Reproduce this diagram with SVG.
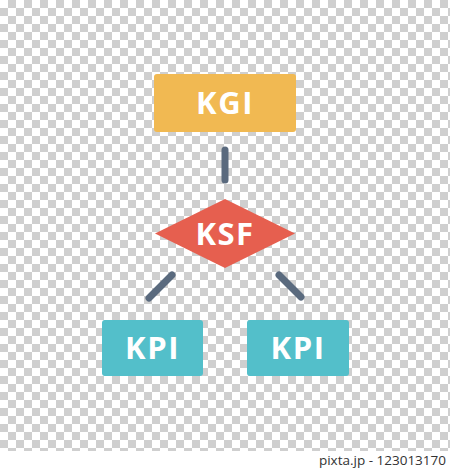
<svg xmlns="http://www.w3.org/2000/svg" width="450" height="469" viewBox="0 0 450 469">
  <defs>
    <pattern id="checker" x="0" y="0" width="16" height="16" patternUnits="userSpaceOnUse">
      <rect width="16" height="16" fill="#ffffff"/>
      <rect x="8" y="0" width="8" height="8" fill="#cfcfcf"/>
      <rect x="0" y="8" width="8" height="8" fill="#cfcfcf"/>
    </pattern>
    <style>
      .lbl { font-family: "Open Sans", "DejaVu Sans", sans-serif; font-weight: bold; font-size: 31px; fill: #ffffff; text-anchor: middle; letter-spacing: 1.5px; }
      .conn { stroke: #5a6a7e; stroke-width: 7; stroke-linecap: round; fill: none; }
      .credit { font-family: "Open Sans", "Liberation Sans", sans-serif; font-size: 13.5px; fill: #333333; }
    </style>
  </defs>
  <rect x="0" y="0" width="450" height="451" fill="url(#checker)"/>
  <rect x="0" y="451" width="450" height="18" fill="#ffffff"/>

  <g id="connectors">
    <line class="conn" x1="225" y1="150" x2="225" y2="180"/>
    <line class="conn" x1="172" y1="275" x2="149" y2="298"/>
    <line class="conn" x1="279" y1="275" x2="301" y2="297"/>
  </g>

  <g id="kgi">
    <rect x="154" y="74" width="142" height="58" rx="3" fill="#f1b952"/>
    <text class="lbl" x="225" y="114">KGI</text>
  </g>

  <g id="ksf">
    <polygon points="225,199 295,233.5 225,268 155,233.5" fill="#e65f4f"/>
    <text class="lbl" x="225" y="245">KSF</text>
  </g>

  <g id="kpi-left">
    <rect x="102" y="320" width="101" height="56" rx="3" fill="#53bfca"/>
    <text class="lbl" x="152.5" y="359">KPI</text>
  </g>

  <g id="kpi-right">
    <rect x="247" y="320" width="102" height="56" rx="3" fill="#53bfca"/>
    <text class="lbl" x="298" y="359">KPI</text>
  </g>

  <text class="credit" x="446" y="465" text-anchor="end">pixta.jp - 123013170</text>
</svg>
